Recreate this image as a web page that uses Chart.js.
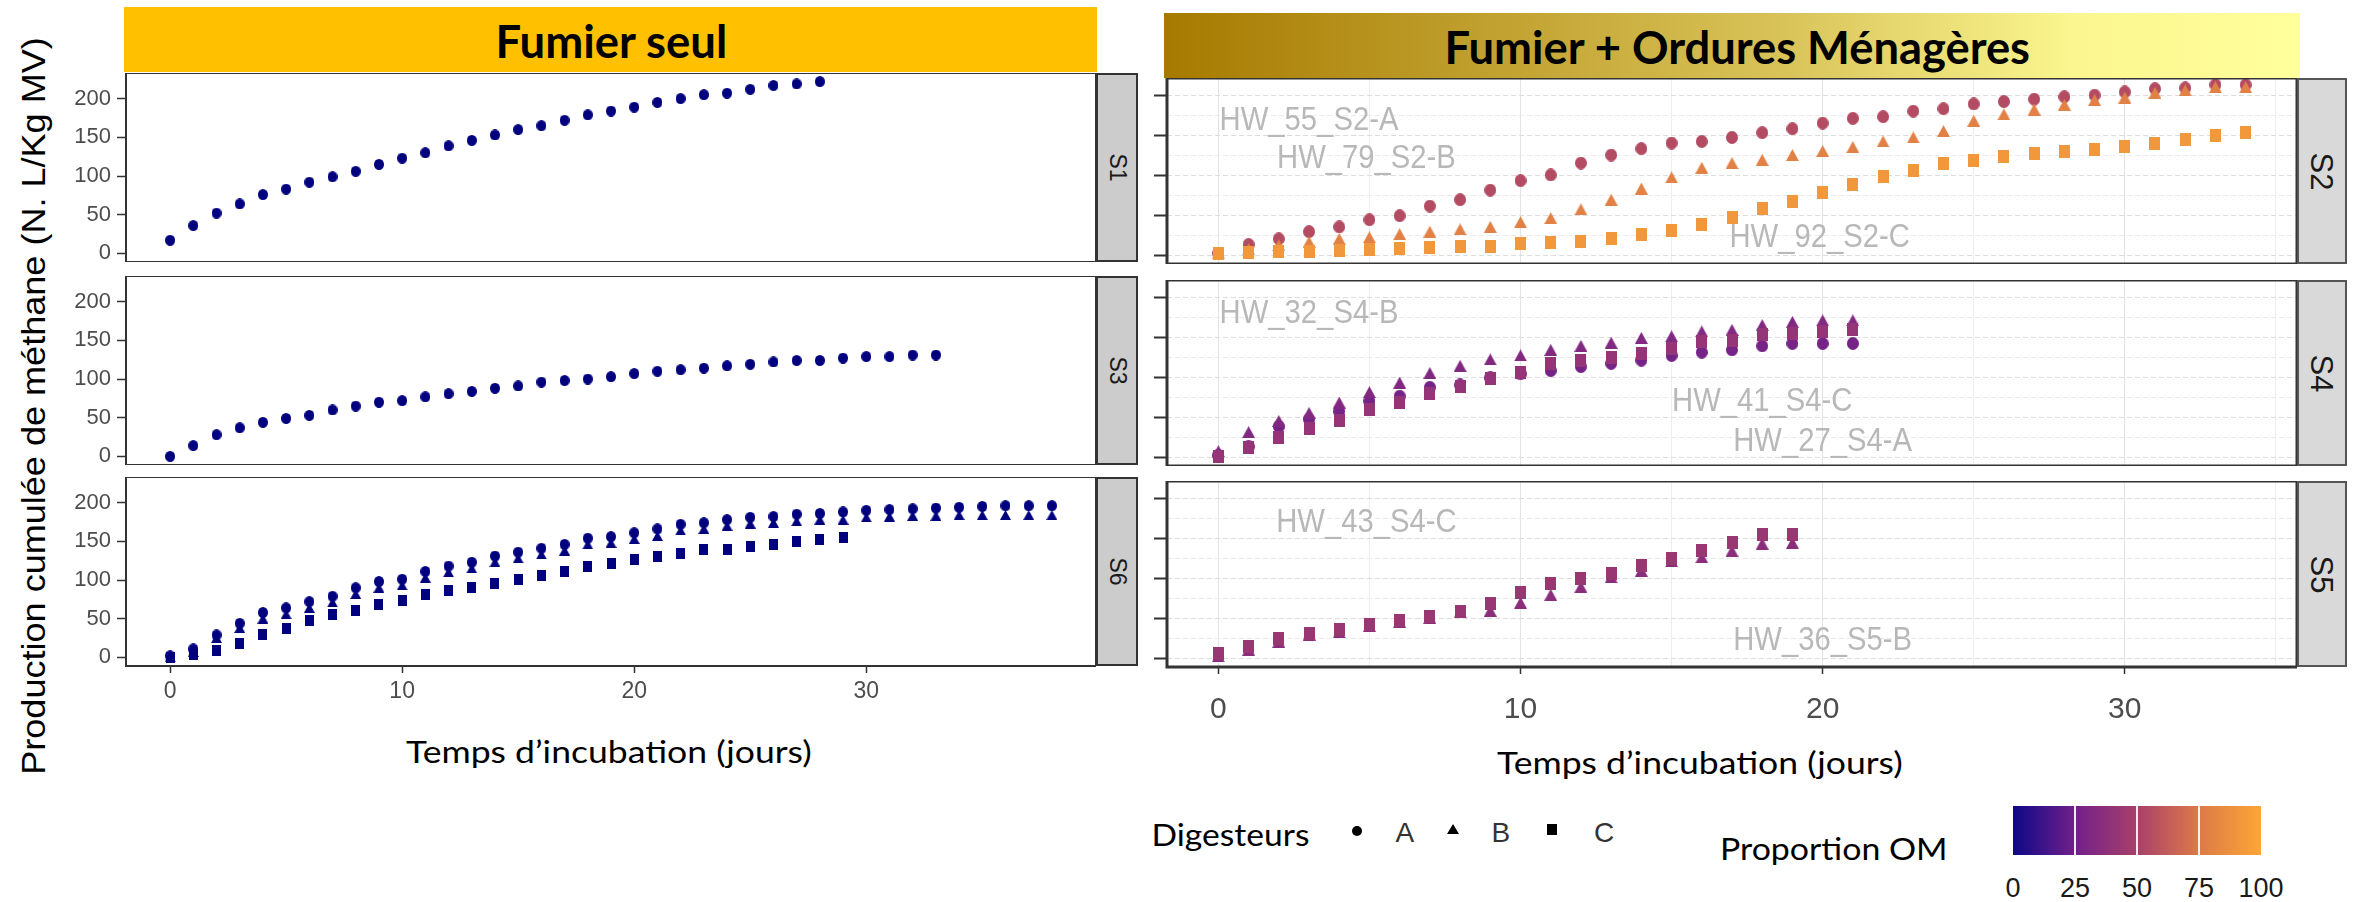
<!DOCTYPE html>
<html><head><meta charset="utf-8">
<script src="https://cdn.jsdelivr.net/npm/chart.js@4.4.1/dist/chart.umd.min.js"></script>
<style>
html,body{margin:0;padding:0;background:#fff;}
#root{position:relative;width:2359px;height:902px;overflow:hidden;background:#fff;}
canvas{position:absolute;}
.t{position:absolute;white-space:nowrap;line-height:1;transform-origin:50% 50%;}
.box{position:absolute;box-sizing:border-box;}
</style></head><body><div id="root"></div>
<script>
// ---------- DATA ----------
const xTicks = [0, 10, 20, 30];
const yTicks = [0, 50, 100, 150, 200];
const proportionTicks = [0, 25, 50, 75, 100];
const colourStops = ['#0d0887', '#72208a', '#a8406a', '#dd7a48', '#fca636']; // at 0,25,50,75,100

// Fumier seul (left column), value per day starting at day 0
const s1_A = [17,36,52,64,76,83,92,99,106,115,123,130,139,146,153,160,165,172,179,184,189,195,200,205,207,212,217,219,222];
const s3_A = [0,14,28,37,44,49,53,60,65,70,72,77,81,84,88,91,96,98,100,103,107,110,112,114,117,119,122,124,124,127,129,129,131,131];
const s6_A = [2,11,29,44,58,64,72,79,90,98,101,111,118,123,131,136,141,146,154,156,161,166,172,174,178,181,182,185,186,188,190,191,192,193,194,195,196,196,196];
const s6_B = [0,7,25,38,50,56,64,71,82,90,93,103,110,115,123,128,133,138,146,148,153,157,164,166,170,173,174,176,178,178,181,182,183,183,184,184,184,184,184];
const s6_C = [0,4,9,18,29,37,48,55,61,68,73,81,86,90,96,101,106,111,117,121,126,131,134,139,140,143,146,150,152,155];

// Fumier + Ordures Ménagères (right column)
const s2_A = [3,14,21,30,36,45,50,62,70,82,94,101,116,126,134,141,143,148,154,159,166,172,174,181,184,190,193,196,199,201,205,209,210,214,214];
const s2_B = [3,8,13,17,21,23,27,30,33,36,42,47,58,70,84,98,110,116,120,126,131,136,143,148,156,169,177,183,189,195,198,204,207,211,211];
const s2_C = [3,4,5,5,6,8,9,10,12,12,15,17,18,22,27,32,39,48,59,68,79,89,99,107,115,119,124,128,131,133,137,140,145,151,154];
const s4_A = [3,14,39,48,58,71,77,88,91,100,105,109,114,118,122,128,132,135,140,143,143,143];
const s4_B = [8,32,46,56,69,82,94,106,115,123,128,135,140,144,150,152,158,160,166,170,172,172];
const s4_C = [1,13,25,37,46,60,69,80,89,99,107,118,122,126,131,137,145,147,154,156,158,160];
const s5_B = [3,11,21,30,33,41,46,51,58,60,70,80,90,102,110,122,127,135,144,145];
const s5_C = [6,15,25,32,37,43,48,53,59,69,83,94,100,107,117,126,136,145,155,155];

// proportion OM of each digester
const propS2 = {A:55, B:79, C:92};
const propS4 = {A:27, B:32, C:41};
const propS5 = {B:36, C:43};

// annotations
const annS2 = [{t:'HW_55_S2-A', x:3.0, y:169}, {t:'HW_79_S2-B', x:4.9, y:122}, {t:'HW_92_S2-C', x:19.9, y:22}];
const annS4 = [{t:'HW_32_S4-B', x:3.0, y:181}, {t:'HW_41_S4-C', x:18.0, y:70}, {t:'HW_27_S4-A', x:20.0, y:20}];
const annS5 = [{t:'HW_43_S4-C', x:4.9, y:170}, {t:'HW_36_S5-B', x:20.0, y:22}];

// ---------- helpers ----------
const root = document.getElementById('root');
Chart.defaults.font.family = "'Liberation Sans', Arial, sans-serif";

function hex2rgb(h){return [parseInt(h.slice(1,3),16),parseInt(h.slice(3,5),16),parseInt(h.slice(5,7),16)];}
function propColour(p){
  const t = Math.max(0, Math.min(1, p/100)) * (colourStops.length-1);
  const i = Math.min(colourStops.length-2, Math.floor(t)), f = t - i;
  const a = hex2rgb(colourStops[i]), b = hex2rgb(colourStops[i+1]);
  return 'rgb(' + a.map((v,k)=>Math.round(v+(b[k]-v)*f)).join(',') + ')';
}
// marker sprite (slightly tall shapes as in the reference)
function marker(shape, colour, w, h){
  const c = document.createElement('canvas'); c.width = w; c.height = h;
  const x = c.getContext('2d'); x.fillStyle = colour; x.beginPath();
  if(shape === 'circle') x.ellipse(w/2, h/2, w/2, h/2, 0, 0, 2*Math.PI);
  else if(shape === 'triangle'){ x.moveTo(w/2, 0); x.lineTo(w, h); x.lineTo(0, h); x.closePath(); }
  else x.rect(0, 0, w, h);
  x.fill(); return c;
}
const SIZES = {
  left:  {circle:[10,11], triangle:[11,10], rect:[9,11]},
  right: {circle:[12,13], triangle:[13,12], rect:[11,13]}
};
function series(values, shape, colour, side, order){
  const [w,h] = SIZES[side][shape];
  return {data: values.map((v,i)=>({x:i, y:v})), pointStyle: marker(shape, colour, w, h), pointRadius: w/2,
    pointBackgroundColor: colour, pointBorderColor: colour, pointBorderWidth: 0,
    backgroundColor: colour, borderColor: colour, showLine: false, order: order, clip: false};
}
function noPad(s){ s.paddingTop = 0; s.paddingBottom = 0; s.paddingLeft = 0; s.paddingRight = 0; }

const framePlugin = {id:'frame', afterDraw(chart, args, o){
  if(!o || !o.width) return;
  const a = chart.chartArea, c = chart.ctx;
  c.save(); c.strokeStyle = o.color; c.lineWidth = o.width;
  c.strokeRect(a.left, a.top, a.right-a.left, a.bottom-a.top); c.restore();
}};
const annotPlugin = {id:'annot', beforeDatasetsDraw(chart, args, o){
  if(!o || !o.items) return;
  const c = chart.ctx;
  c.save(); c.font = o.font; c.fillStyle = o.color; c.textAlign = 'center'; c.textBaseline = 'middle';
  for(const it of o.items){
    const x = chart.scales.x.getPixelForValue(it.x), y = chart.scales.y.getPixelForValue(it.y);
    c.save(); c.translate(x, y); c.scale(o.sx || 1, 1); c.fillText(it.t, 0, 0); c.restore();
  }
  c.restore();
}};
Chart.register(framePlugin, annotPlugin);

function makeCanvas(left, top, w, h){
  const c = document.createElement('canvas');
  c.width = w; c.height = h;
  c.style.left = left+'px'; c.style.top = top+'px'; c.style.width = w+'px'; c.style.height = h+'px';
  root.appendChild(c); return c;
}

// left column panel
function leftPanel(py, datasets, showX){
  const px = 126, pw = 970, ph = 189, axW = 66, axH = showX ? 48 : 0;
  const c = makeCanvas(px-axW, py, axW+pw, ph+axH);
  new Chart(c, {type:'scatter', data:{datasets}, options:{
    responsive:false, animation:false, events:[],
    layout:{padding:0, autoPadding:false},
    plugins:{legend:{display:false}, tooltip:{enabled:false}, frame:{width:2, color:'#333'}},
    scales:{
      x:{type:'linear', min:-1.9, max:39.9, display:showX,
        afterBuildTicks:s=>{s.ticks = xTicks.map(v=>({value:v}));},
        afterFit:s=>{s.height = axH; noPad(s);},
        grid:{display:true, drawOnChartArea:false, drawTicks:true, tickLength:7, tickColor:'#333', tickWidth:1.5},
        border:{display:false},
        ticks:{font:{size:23}, color:'#4d4d4d', padding:5, maxRotation:0, autoSkip:false}},
      y:{type:'linear', min:-11.1, max:233.1,
        afterBuildTicks:s=>{s.ticks = yTicks.map(v=>({value:v}));},
        afterFit:s=>{s.width = axW; noPad(s);},
        grid:{display:true, drawOnChartArea:false, drawTicks:true, tickLength:9, tickColor:'#333', tickWidth:1.5},
        border:{display:false},
        ticks:{font:{size:22}, color:'#4d4d4d', padding:6, autoSkip:false}}
    }}});
}

// right column panel
function rightPanel(py, datasets, showX, ann){
  const px = 1167, pw = 1130, ph = 186, axW = 14, axH = showX ? 66 : 0;
  const c = makeCanvas(px-axW, py, axW+pw, ph+axH);
  const xGridTicks = [0,5,10,15,20,25,30,35];
  const yGridTicks = [0,25,50,75,100,125,150,175,200];
  new Chart(c, {type:'scatter', data:{datasets}, options:{
    responsive:false, animation:false, events:[],
    layout:{padding:0, autoPadding:false},
    plugins:{legend:{display:false}, tooltip:{enabled:false}, frame:{width:3, color:'#333'},
      annot:{items:ann, font:"34px 'Liberation Sans', Arial, sans-serif", color:'#b8b8b8', sx:0.86}},
    scales:{
      x:{type:'linear', min:-1.7, max:35.7, display:true,
        afterBuildTicks:s=>{s.ticks = xGridTicks.map(v=>({value:v}));},
        afterFit:s=>{s.height = axH; noPad(s);},
        grid:{display:true, drawOnChartArea:true, drawTicks:showX, tickLength:7, tickWidth:1.5,
          color:ctx=> (ctx.tick && xTicks.includes(ctx.tick.value)) ? '#e3e3e3' : '#efefef',
          tickColor:ctx=> (ctx.tick && xTicks.includes(ctx.tick.value)) ? '#333' : 'rgba(0,0,0,0)'},
        border:{display:false},
        ticks:{display:showX, font:{size:30}, color:'#4d4d4d', padding:18, maxRotation:0, autoSkip:false,
          callback:v=> xTicks.includes(v) ? String(v) : ''}},
      y:{type:'linear', min:-10.5, max:222.5,
        afterBuildTicks:s=>{s.ticks = yGridTicks.map(v=>({value:v}));},
        afterFit:s=>{s.width = axW; noPad(s);},
        grid:{display:true, drawOnChartArea:true, drawTicks:true, tickLength:13, tickWidth:2,
          color:ctx=> (ctx.tick && yTicks.includes(ctx.tick.value)) ? '#dcdcdc' : '#ebebeb',
          tickColor:ctx=> (ctx.tick && yTicks.includes(ctx.tick.value)) ? '#333' : 'rgba(0,0,0,0)'},
        border:{display:false, dash:[5,3]},
        ticks:{display:true, font:{size:1}, padding:0, autoSkip:false, callback:()=>''}}
    }}});
}

// ---------- PANELS ----------
const navy = '#00007f';
leftPanel(73,  [series(s1_A,'circle',navy,'left',2)], false);
leftPanel(276, [series(s3_A,'circle',navy,'left',2)], false);
leftPanel(477, [series(s6_A,'circle',navy,'left',2), series(s6_B,'triangle',navy,'left',1), series(s6_C,'rect',navy,'left',0)], true);

rightPanel(78,  [series(s2_A,'circle',propColour(propS2.A),'right',2),
                 series(s2_B,'triangle',propColour(propS2.B),'right',1),
                 series(s2_C,'rect',propColour(propS2.C),'right',0)], false, annS2);
rightPanel(280, [series(s4_A,'circle',propColour(propS4.A),'right',2),
                 series(s4_B,'triangle',propColour(propS4.B),'right',1),
                 series(s4_C,'rect',propColour(propS4.C),'right',0)], false, annS4);
rightPanel(481, [series(s5_B,'triangle',propColour(propS5.B),'right',1),
                 series(s5_C,'rect',propColour(propS5.C),'right',0)], true, annS5);

// ---------- DECORATION (strips, headers, titles, legend) ----------
function box(l,t,w,h,style){const d=document.createElement('div');d.className='box';
  Object.assign(d.style,{left:l+'px',top:t+'px',width:w+'px',height:h+'px'},style);root.appendChild(d);return d;}
function txt(str,o){
  const d=document.createElement('div'); d.className='t'; d.textContent=str;
  Object.assign(d.style,{fontFamily:o.font||'Lato', fontSize:o.size+'px', fontWeight:o.weight||'normal', color:o.color||'#000'});
  root.appendChild(d);
  const w=d.offsetWidth, h=d.offsetHeight, s=o.w? o.w/w : 1;
  d.style.left=(o.cx-w/2)+'px'; d.style.top=(o.cy-h/2)+'px';
  d.style.transform=(o.rot?`rotate(${o.rot}deg) `:'')+`scaleX(${s})`;
  return d;
}

// headers
box(124,7,973,65,{background:'#ffc000'});
box(1164,13,1136,65,{background:'linear-gradient(to right,#a67a00,#d9c45a 55%,#fbf68f 80%,#ffff9c)'});

// strips
const arial = "'Liberation Sans', Arial, sans-serif";
[[73,'S1'],[276,'S3'],[477,'S6']].forEach(([y,l])=>{
  box(1096,y,42,189,{background:'#cccccc',border:'2px solid #333'});
  txt(l,{cx:1117,cy:y+94,size:23,font:arial,color:'#1a1a1a',rot:90});
});
[[78,'S2'],[280,'S4'],[481,'S5']].forEach(([y,l])=>{
  box(2297,y,50,186,{background:'#d9d9d9',border:'2px solid #555'});
  txt(l,{cx:2322,cy:y+93,size:31,font:arial,color:'#1a1a1a',rot:90});
});

document.fonts.ready.then(()=>{
  txt('Fumier seul',{cx:611,cy:41,size:46,weight:'bold',w:232});
  txt('Fumier + Ordures Ménagères',{cx:1737,cy:47,size:46,weight:'bold',w:586});
  txt('Production cumulée de méthane (N. L/Kg MV)',{cx:32,cy:406,size:34,font:arial,rot:-90,w:737});
  txt('Temps d’incubation (jours)',{cx:609,cy:751,size:31,w:406});
  txt('Temps d’incubation (jours)',{cx:1700,cy:762,size:31,w:406});
  // shape legend
  txt('Digesteurs',{cx:1230,cy:834,size:30,w:158});
  box(1352,826,10,10,{background:'#000',borderRadius:'50%'});
  box(1447,824,0,0,{borderLeft:'6px solid transparent',borderRight:'6px solid transparent',borderBottom:'10px solid #000'});
  box(1547,824,10,11,{background:'#000'});
  txt('A',{cx:1405,cy:833,size:28,font:arial,color:'#333'});
  txt('B',{cx:1501,cy:833,size:28,font:arial,color:'#333'});
  txt('C',{cx:1604,cy:833,size:28,font:arial,color:'#333'});
  // colour legend
  txt('Proportion OM',{cx:1834,cy:848,size:30,w:228});
  box(2013,806,248,49,{background:'linear-gradient(to right,'+colourStops.join(',')+')'});
  proportionTicks.forEach(p=>{
    const x = 2013 + 248*p/100;
    if(p>0 && p<100) box(x-1,806,2,49,{background:'rgba(255,255,255,0.9)'});
    txt(String(p),{cx:x,cy:888,size:27,font:arial,color:'#1a1a1a'});
  });
});
</script></body></html>
